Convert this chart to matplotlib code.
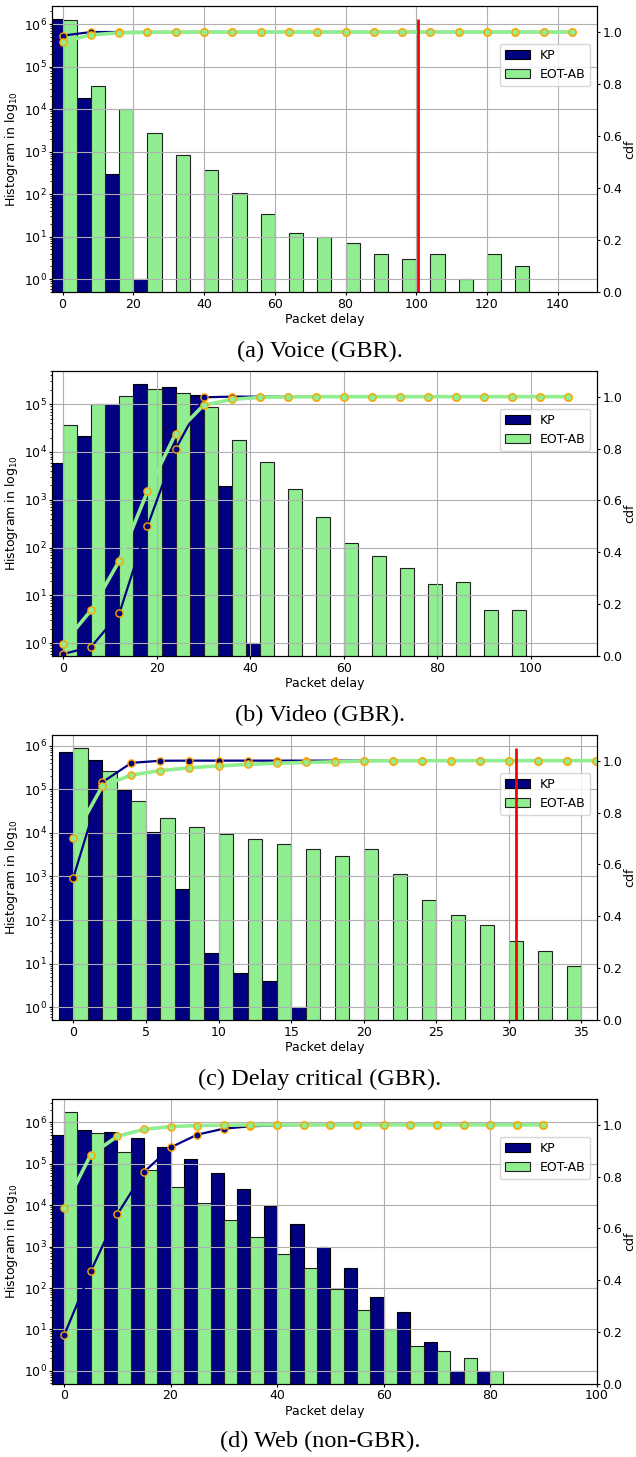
import numpy as np
import matplotlib
matplotlib.use('Agg')
import matplotlib.pyplot as plt

# ---------------- data ----------------
# (a) Voice (GBR)
delay_a = [0, 8, 16, 24, 32, 40, 48, 56, 64, 72, 80, 88, 96, 104, 112, 120, 128, 136, 144]
kp_a = [1.3e6, 1.8e4, 300, 1, 0, 0, 0, 0, 0, 0, 0, 0, 0, 0, 0, 0, 0, 0, 0]
eot_a = [1.24e6, 3.5e4, 1.0e4, 2800, 820, 365, 105, 34, 12, 10, 7, 4, 3, 4, 1, 4, 2, 0, 0]

# (b) Video (GBR)
delay_b = [0, 6, 12, 18, 24, 30, 36, 42, 48, 54, 60, 66, 72, 78, 84, 90, 96, 102, 108]
kp_b = [5.9e3, 2.2e4, 1.0e5, 2.6e5, 2.3e5, 1.55e5, 1.9e3, 1, 0, 0, 0, 0, 0, 0, 0, 0, 0, 0, 0]
eot_b = [3.7e4, 1.03e5, 1.5e5, 2.1e5, 1.75e5, 8.7e4, 1.74e4, 6.2e3, 1.67e3, 435, 124, 66, 37, 17, 19, 5, 5, 0, 0]

# (c) Delay critical (GBR)
delay_c = [0, 2, 4, 6, 8, 10, 12, 14, 16, 18, 20, 22, 24, 26, 28, 30, 32, 34, 36]
kp_c = [7.0e5, 4.7e5, 9.5e4, 1.04e4, 530, 18, 6, 4, 1, 0, 0, 0, 0, 0, 0, 0, 0, 0, 0]
eot_c = [9.0e5, 2.6e5, 5.4e4, 2.25e4, 1.35e4, 9.5e3, 7.3e3, 5.6e3, 4.2e3, 3.0e3, 4.3e3, 1.15e3, 286, 134, 78, 33, 20, 9, 0]

# (d) Web (non-GBR)
delay_d = [0, 5, 10, 15, 20, 25, 30, 35, 40, 45, 50, 55, 60, 65, 70, 75, 80, 85, 90]
kp_d = [4.9e5, 6.5e5, 5.8e5, 4.3e5, 2.5e5, 1.3e5, 6.1e4, 2.4e4, 9.5e3, 3.5e3, 960, 300, 62, 27, 5, 1, 1, 0, 0]
eot_d = [1.8e6, 5.4e5, 1.9e5, 7.2e4, 2.75e4, 1.1e4, 4.3e3, 1.68e3, 650, 300, 93, 30, 10, 4, 3, 2, 1, 0, 0]

captions = ["(a) Voice (GBR).", "(b) Video (GBR).", "(c) Delay critical (GBR).", "(d) Web (non-GBR)."]
budgets = [100.5, None, 30.5, None]
xticks = [[0, 20, 40, 60, 80, 100, 120, 140], [0, 20, 40, 60, 80, 100],
          [0, 5, 10, 15, 20, 25, 30, 35], [0, 20, 40, 60, 80, 100]]
labels = ["KP", "EOT-AB"]

# ---------------- layout ----------------
W, H = 636, 1457
fig = plt.figure(figsize=(W / 100, H / 100), dpi=100)

panels = [
    (delay_a, kp_a, eot_a, (-2.9, 151), (0.5, 2.65e6), 6, 292, 351),
    (delay_b, kp_b, eot_b, (-2.35, 114.05), (0.54, 5e5), 370.7, 656, 715),
    (delay_c, kp_c, eot_c, (-1.45, 36.05), (0.51, 1.79e6), 734.7, 1020, 1079),
    (delay_d, kp_d, eot_d, (-2.2, 100), (0.49, 3.66e6), 1099, 1383.7, 1441),
]

left_px, right_px = 52.3, 596.7
for i, (dl, kp, eot, xl, yl, top, bot, capy) in enumerate(panels):
    ax = fig.add_axes([left_px / W, 1 - bot / H, (right_px - left_px) / W, (bot - top) / H])
    d = np.array(dl, float)
    k = np.array(kp, float)
    e = np.array(eot, float)
    w = (d[1] - d[0]) / 2.0
    mk = k > 0
    me = e > 0
    ax.bar(d[mk] - w / 2, k[mk], width=w, color='navy', edgecolor='black', linewidth=0.8, label=labels[0], log=True)
    ax.bar(d[me] + w / 2, e[me], width=w, color='lightgreen', edgecolor='#222222', linewidth=0.8, label=labels[1], log=True)
    ax.set_yscale('log')
    ax.set_xlim(*xl)
    ax.set_ylim(*yl)
    ax.set_xticks(xticks[i])
    ax.grid(True, color='#b0b0b0', linewidth=0.8)
    ax.set_xlabel('Packet delay', fontsize=9, labelpad=2)
    ax.set_ylabel(r'Histogram in log$_{10}$', fontsize=9, labelpad=3)
    ax.tick_params(labelsize=9, length=2, pad=2)
    ax.tick_params(which='minor', length=1.3)
    ax.legend(loc='upper right', bbox_to_anchor=(1.0, 0.889), fontsize=9)

    ax2 = ax.twinx()
    cdf_k = np.cumsum(k) / k.sum()
    cdf_e = np.cumsum(e) / e.sum()
    ax2.plot(d, cdf_k, '-o', color='navy', lw=1.6, ms=5.2, mfc='navy', mec='orange', mew=1.0)
    ax2.plot(d, cdf_e, '-o', color='lightgreen', lw=2.6, ms=5.2, mfc='lightgreen', mec='orange', mew=1.0)
    if budgets[i] is not None:
        ax2.vlines(budgets[i], 0, 1.05, color='red', lw=2)
    ax2.set_ylim(0, 1.1)
    ax2.set_yticks([0.0, 0.2, 0.4, 0.6, 0.8, 1.0])
    ax2.set_ylabel('cdf', fontsize=9, labelpad=1)
    ax2.tick_params(labelsize=9, length=2, pad=2)
    ax2.set_xlim(*xl)

    fig.text(320 / W, 1 - capy / H, captions[i], ha='center', va='center',
             family='Liberation Serif', fontsize=17.5)

fig.savefig('out.png', dpi=100)
